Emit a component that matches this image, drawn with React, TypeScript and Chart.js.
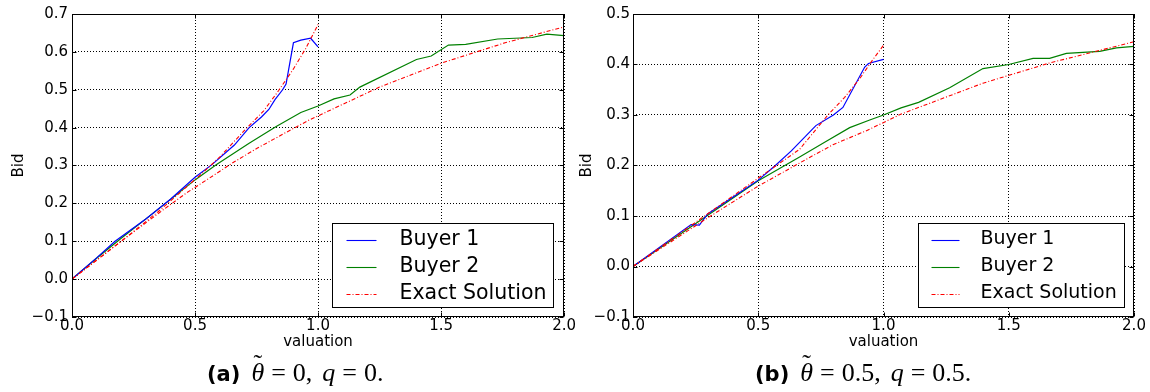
import React, { useEffect, useRef } from "react";
import { Chart, registerables } from "chart.js";

Chart.register(...registerables);

// ---------- shared ----------
const xTickValues = [0, 0.5, 1.0, 1.5, 2.0];
const legendLabels = ["Buyer 1", "Buyer 2", "Exact Solution"];
const xLabel = "valuation";
const yLabel = "Bid";

// ---------- panel (a) ----------
const aYTicks = [-0.1, 0, 0.1, 0.2, 0.3, 0.4, 0.5, 0.6, 0.7];
const aBuyer1X = [0, 0.1, 0.175, 0.3, 0.4, 0.5, 0.57, 0.66, 0.72, 0.77, 0.8, 0.825, 0.856, 0.87, 0.9, 0.93, 0.97, 1.0];
const aBuyer1Y = [0, 0.056, 0.1, 0.159, 0.211, 0.269, 0.303, 0.354, 0.4, 0.428, 0.448, 0.474, 0.5, 0.515, 0.624, 0.631, 0.636, 0.613];
const aBuyer2X = [0, 0.1, 0.2, 0.316, 0.5, 0.586, 0.72, 0.83, 0.93, 1.0, 1.065, 1.13, 1.17, 1.4, 1.46, 1.53, 1.6, 1.73, 1.87, 1.93, 2.0];
const aBuyer2Y = [0, 0.055, 0.108, 0.167, 0.262, 0.302, 0.359, 0.403, 0.44, 0.457, 0.476, 0.486, 0.507, 0.58, 0.589, 0.618, 0.62, 0.634, 0.638, 0.647, 0.643];
const aExact1X = [0, 0.2, 0.35, 0.53, 0.6, 0.7, 0.78, 0.84, 0.9, 0.95, 1.0];
const aExact1Y = [0, 0.1, 0.178, 0.28, 0.322, 0.392, 0.445, 0.498, 0.555, 0.609, 0.672];
const aExact2X = [0, 0.2, 0.356, 0.464, 0.552, 0.66, 0.754, 0.869, 0.964, 1.25, 1.5, 1.76, 2.0];
const aExact2Y = [0, 0.1, 0.176, 0.227, 0.264, 0.31, 0.346, 0.387, 0.42, 0.507, 0.57, 0.624, 0.666];

// ---------- panel (b) ----------
const bYTicks = [-0.1, 0, 0.1, 0.2, 0.3, 0.4, 0.5];
const bBuyer1X = [0, 0.232, 0.265, 0.298, 0.386, 0.5, 0.566, 0.632, 0.73, 0.8, 0.838, 0.925, 0.94, 1.0];
const bBuyer1Y = [0, 0.083, 0.082, 0.104, 0.133, 0.171, 0.199, 0.229, 0.279, 0.3, 0.315, 0.395, 0.402, 0.41];
const bBuyer2X = [0, 0.3, 0.5, 0.665, 0.765, 0.865, 0.945, 1.0, 1.07, 1.14, 1.264, 1.397, 1.5, 1.597, 1.663, 1.73, 1.863, 1.93, 2.0];
const bBuyer2Y = [0, 0.102, 0.17, 0.217, 0.246, 0.275, 0.29, 0.3, 0.314, 0.325, 0.354, 0.392, 0.4, 0.412, 0.412, 0.422, 0.426, 0.433, 0.436];
const bExact1X = [0, 0.3, 0.526, 0.665, 0.778, 0.845, 0.905, 0.958, 1.0];
const bExact1Y = [0, 0.105, 0.184, 0.232, 0.3, 0.335, 0.372, 0.41, 0.438];
const bExact2X = [0, 0.3, 0.499, 0.586, 0.705, 0.798, 0.932, 1.071, 1.397, 1.663, 2.0];
const bExact2Y = [0, 0.097, 0.159, 0.183, 0.216, 0.241, 0.269, 0.302, 0.363, 0.403, 0.445];

const BLUE = "#0000ff";
const GREEN = "#008000";
const RED = "#ff0000";
const RED_DASH = [4, 2, 1, 2];
const FONT = "'DejaVu Sans', sans-serif";

const pts = (xs: number[], ys: number[]) => xs.map((x, i) => ({ x, y: ys[i] }));
const fmt = (v: number) => (v < -1e-9 ? "\u2212" + Math.abs(v).toFixed(1) : Math.abs(v).toFixed(1));

type PanelProps = {
  width: number;
  yTicks: number[];
  b1: any;
  b2: any;
  e1: any;
  e2: any;
  yWidth: number;
  padRight: number;
  yTitlePad: number;
  yTickPad: number;
  legend: { w: number; h: number; mr: number; mb: number; s0: number; s1: number; tx: number; rows: number[]; font: number };
};

function Panel(p: PanelProps) {
  const ref = useRef<HTMLCanvasElement>(null);
  useEffect(() => {
    if (!ref.current) return;
    const lineDs = (label: string, data: any, color: string, dash: number[], order: number) => ({
      label,
      data,
      borderColor: color,
      backgroundColor: color,
      borderWidth: dash.length ? 1.1 : 1.2,
      borderDash: dash,
      pointRadius: 0,
      tension: 0,
      fill: false,
      order,
    });
    const frameLegend = {
      id: "frameLegend",
      afterDraw(chart: any) {
        const { ctx, chartArea: a, scales } = chart;
        ctx.save();
        ctx.setLineDash([]);
        ctx.strokeStyle = "#000";
        ctx.lineWidth = 1;
        const L = Math.round(a.left) + 0.5;
        const R = Math.round(a.right) - 0.5;
        const T = Math.round(a.top) + 0.5;
        const B = Math.round(a.bottom) - 0.5;
        ctx.strokeRect(L, T, R - L, B - T);
        ctx.beginPath();
        for (const v of xTickValues) {
          const px = Math.round(scales.x.getPixelForValue(v)) + 0.5;
          ctx.moveTo(px, B);
          ctx.lineTo(px, B - 4);
          ctx.moveTo(px, T);
          ctx.lineTo(px, T + 4);
        }
        for (const v of p.yTicks) {
          const py = Math.round(scales.y.getPixelForValue(v)) + 0.5;
          ctx.moveTo(L, py);
          ctx.lineTo(L + 4, py);
          ctx.moveTo(R, py);
          ctx.lineTo(R - 4, py);
        }
        ctx.stroke();
        // legend
        const lg = p.legend;
        const bx = Math.round(a.right - lg.mr - lg.w) + 0.5;
        const by = Math.round(a.bottom - lg.mb - lg.h) + 0.5;
        ctx.fillStyle = "#fff";
        ctx.fillRect(bx, by, lg.w, lg.h);
        ctx.strokeStyle = "#000";
        ctx.strokeRect(bx, by, lg.w, lg.h);
        const colors = [BLUE, GREEN, RED];
        const dashes = [[], [], RED_DASH];
        ctx.font = `${lg.font}px ${FONT}`;
        ctx.textBaseline = "middle";
        ctx.textAlign = "left";
        legendLabels.forEach((lab, i) => {
          const ry = by + lg.rows[i];
          ctx.beginPath();
          ctx.strokeStyle = colors[i];
          ctx.lineWidth = 1.1;
          ctx.setLineDash(dashes[i]);
          ctx.moveTo(bx + lg.s0, Math.round(ry) + 0.5);
          ctx.lineTo(bx + lg.s1, Math.round(ry) + 0.5);
          ctx.stroke();
          ctx.setLineDash([]);
          ctx.fillStyle = "#000";
          ctx.fillText(lab, bx + lg.tx, ry);
        });
        ctx.restore();
      },
    };
    const chart = new Chart(ref.current, {
      type: "line",
      data: {
        datasets: [
          lineDs(legendLabels[0], p.b1, BLUE, [], 1),
          lineDs(legendLabels[1], p.b2, GREEN, [], 2),
          lineDs(legendLabels[2], p.e1, RED, RED_DASH, 0),
          lineDs(legendLabels[2] + " ", p.e2, RED, RED_DASH, 0),
        ],
      },
      options: {
        responsive: false,
        animation: false,
        events: [],
        layout: { padding: { left: 0, right: p.padRight, top: 14, bottom: 41 }, autoPadding: false } as any,
        plugins: { legend: { display: false }, tooltip: { enabled: false }, title: { display: false } },
        scales: {
          x: {
            type: "linear",
            min: 0,
            max: 2,
            afterFit: (s: any) => {
              s.height = 34;
            },
            afterBuildTicks: (s: any) => {
              s.ticks = xTickValues.map((v) => ({ value: v }));
            },
            ticks: {
              callback: (v: any) => fmt(Number(v)),
              color: "#000",
              font: { family: FONT, size: 15, lineHeight: 1.2 },
              padding: 0,
              maxRotation: 0,
              autoSkip: false,
            },
            grid: { color: "#000", lineWidth: 1, drawTicks: false },
            border: { display: false, dash: [1, 2] },
            title: {
              display: true,
              text: xLabel,
              color: "#000",
              font: { family: FONT, size: 15, lineHeight: 1.2 },
              padding: { top: 0, bottom: 0 },
            },
          },
          y: {
            type: "linear",
            min: p.yTicks[0],
            max: p.yTicks[p.yTicks.length - 1],
            afterFit: (s: any) => {
              s.width = p.yWidth;
            },
            afterBuildTicks: (s: any) => {
              s.ticks = p.yTicks.map((v) => ({ value: v }));
            },
            ticks: {
              callback: (v: any) => fmt(Number(v)),
              color: "#000",
              font: { family: FONT, size: 15, lineHeight: 1.2 },
              padding: p.yTickPad,
              autoSkip: false,
            },
            grid: { color: "#000", lineWidth: 1, drawTicks: false },
            border: { display: false, dash: [1, 2] },
            title: {
              display: true,
              text: yLabel,
              color: "#000",
              font: { family: FONT, size: 15, lineHeight: 1.2 },
              padding: { top: p.yTitlePad, bottom: 0 },
            },
          },
        },
      } as any,
      plugins: [frameLegend],
    });
    return () => chart.destroy();
  }, []);
  return <canvas ref={ref} width={p.width} height={392} style={{ display: "block", width: p.width, height: 392 }} />;
}

const capBold: React.CSSProperties = { fontFamily: FONT, fontWeight: "bold", fontSize: 21 };
const capMath: React.CSSProperties = { fontFamily: "'Liberation Serif', serif", fontSize: 26 };
const gap = (w: number) => <span style={{ display: "inline-block", width: w }} />;

function Theta() {
  return (
    <span style={{ position: "relative", fontStyle: "italic" }}>
      θ
      <span style={{ position: "absolute", left: 2, top: -9, fontStyle: "normal" }}>˜</span>
    </span>
  );
}

function Caption({ left, tag, theta, q }: { left: number; tag: string; theta: string; q: string }) {
  return (
    <div style={{ position: "absolute", left, top: 358, whiteSpace: "nowrap", lineHeight: "30px", color: "#000" }}>
      <span style={capBold}>{tag}</span>
      <span style={capMath}>
        {gap(11)}
        <Theta />
        {gap(7)}={gap(7)}
        {theta},{gap(10)}
        <i>q</i>
        {gap(7)}={gap(7)}
        {q}.
      </span>
    </div>
  );
}

export default function App() {
  return (
    <div style={{ position: "fixed", left: 0, top: 0, width: 1150, height: 392, background: "#fff", overflow: "hidden" }}>
      <div style={{ position: "absolute", left: 0, top: 0 }}>
        <Panel
          width={576}
          yTicks={aYTicks}
          b1={pts(aBuyer1X, aBuyer1Y)}
          b2={pts(aBuyer2X, aBuyer2Y)}
          e1={pts(aExact1X, aExact1Y)}
          e2={pts(aExact2X, aExact2Y)}
          yWidth={72}
          padRight={10}
          yTitlePad={10}
          yTickPad={4}
          legend={{ w: 221, h: 84, mr: 11, mb: 10, s0: 14, s1: 44, tx: 67, rows: [16, 43, 70], font: 20.5 }}
        />
      </div>
      <div style={{ position: "absolute", left: 576, top: 0 }}>
        <Panel
          width={570}
          yTicks={bYTicks}
          b1={pts(bBuyer1X, bBuyer1Y)}
          b2={pts(bBuyer2X, bBuyer2Y)}
          e1={pts(bExact1X, bExact1Y)}
          e2={pts(bExact2X, bExact2Y)}
          yWidth={57}
          padRight={12}
          yTitlePad={2}
          yTickPad={3}
          legend={{ w: 206, h: 84, mr: 10, mb: 10, s0: 13, s1: 41, tx: 62, rows: [16, 43, 70], font: 19 }}
        />
      </div>
      <Caption left={207} tag="(a)" theta="0" q="0" />
      <Caption left={755} tag="(b)" theta="0.5" q="0.5" />
    </div>
  );
}
